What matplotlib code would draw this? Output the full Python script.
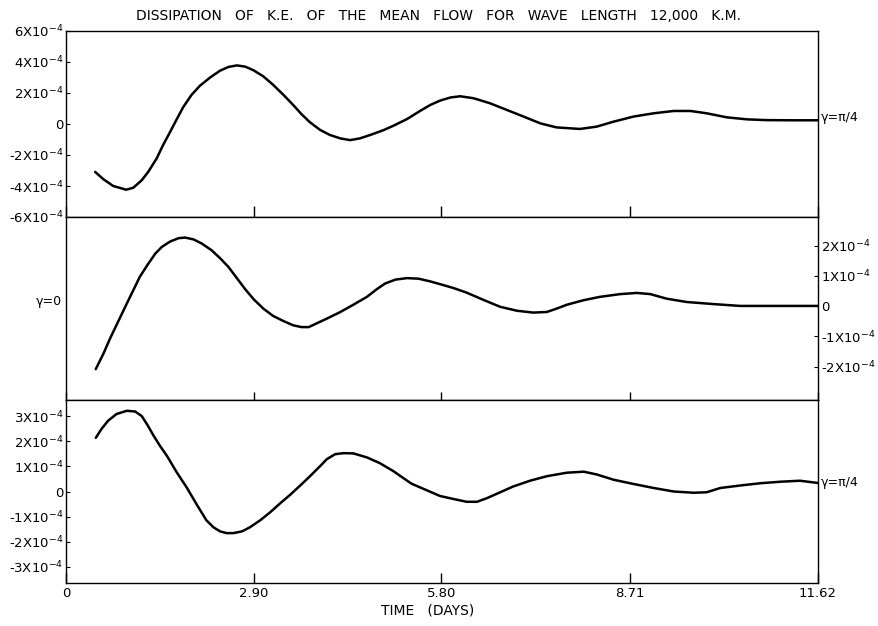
import matplotlib
matplotlib.use("Agg")
import matplotlib.pyplot as plt

# time axis (days)
x_ticks = [0, 2.90, 5.80, 8.71, 11.62]
x_ticklabels = ["0", "2.90", "5.80", "8.71", "11.62"]

# values in units of 1e-4
top_t = [0.45, 0.58, 0.73, 0.93, 1.04, 1.17, 1.27, 1.40, 1.50, 1.61, 1.71, 1.81,
         1.94, 2.07, 2.23, 2.38, 2.51, 2.64, 2.77, 2.90, 3.05, 3.20, 3.36, 3.51,
         3.64, 3.77, 3.93, 4.08, 4.24, 4.39, 4.54, 4.70, 4.91, 5.06, 5.27, 5.47,
         5.63, 5.78, 5.94, 6.09, 6.30, 6.55, 6.81, 7.07, 7.33, 7.58, 7.94, 8.20,
         8.46, 8.77, 9.08, 9.39, 9.65, 9.90, 10.21, 10.52, 10.83, 11.19, 11.62]
top_v = [-3.09, -3.57, -4.00, -4.24, -4.11, -3.63, -3.09, -2.23, -1.36, -0.50, 0.30, 1.08,
         1.88, 2.47, 3.01, 3.44, 3.68, 3.78, 3.70, 3.46, 3.07, 2.53, 1.88, 1.23,
         0.63, 0.11, -0.39, -0.71, -0.93, -1.04, -0.93, -0.71, -0.39, -0.11, 0.32, 0.84,
         1.23, 1.51, 1.71, 1.79, 1.66, 1.34, 0.91, 0.48, 0.04, -0.22, -0.32, -0.17,
         0.15, 0.48, 0.69, 0.84, 0.84, 0.69, 0.43, 0.30, 0.25, 0.24, 0.24]

mid_t = [0.46, 0.58, 0.68, 0.81, 0.94, 1.04, 1.14, 1.26, 1.38, 1.48, 1.61, 1.74,
         1.84, 1.97, 2.10, 2.25, 2.38, 2.51, 2.64, 2.77, 2.90, 3.05, 3.20, 3.36,
         3.51, 3.64, 3.75, 3.87, 4.03, 4.24, 4.44, 4.65, 4.80, 4.93, 5.09, 5.27,
         5.45, 5.63, 5.78, 5.99, 6.19, 6.45, 6.71, 6.97, 7.22, 7.43, 7.58, 7.74,
         8.00, 8.25, 8.56, 8.82, 9.03, 9.28, 9.59, 10.01, 10.42, 10.93, 11.62]
mid_v = [-2.08, -1.56, -1.07, -0.49, 0.09, 0.53, 0.97, 1.37, 1.74, 1.96, 2.14, 2.25,
         2.27, 2.21, 2.07, 1.85, 1.59, 1.30, 0.93, 0.56, 0.23, -0.08, -0.32, -0.49,
         -0.63, -0.69, -0.69, -0.57, -0.41, -0.19, 0.05, 0.31, 0.56, 0.75, 0.88, 0.93,
         0.91, 0.82, 0.73, 0.60, 0.45, 0.21, -0.02, -0.15, -0.21, -0.19, -0.08, 0.05,
         0.20, 0.31, 0.40, 0.44, 0.40, 0.25, 0.14, 0.07, 0.01, 0.01, 0.01]

bot_t = [0.46, 0.55, 0.65, 0.78, 0.94, 1.07, 1.17, 1.26, 1.35, 1.45, 1.56, 1.71,
         1.87, 2.02, 2.17, 2.28, 2.38, 2.48, 2.59, 2.72, 2.84, 3.00, 3.15, 3.31,
         3.46, 3.62, 3.77, 3.93, 4.03, 4.16, 4.29, 4.44, 4.65, 4.85, 5.06, 5.21,
         5.34, 5.52, 5.78, 5.99, 6.19, 6.35, 6.50, 6.71, 6.91, 7.17, 7.43, 7.74,
         8.00, 8.20, 8.46, 8.77, 9.08, 9.39, 9.70, 9.90, 10.11, 10.42, 10.73, 11.04,
         11.34, 11.62]
bot_v = [2.14, 2.50, 2.82, 3.09, 3.22, 3.19, 3.01, 2.65, 2.24, 1.83, 1.42, 0.77,
         0.14, -0.52, -1.15, -1.43, -1.59, -1.66, -1.66, -1.59, -1.43, -1.15, -0.84, -0.47,
         -0.14, 0.24, 0.61, 1.02, 1.29, 1.49, 1.53, 1.52, 1.36, 1.13, 0.81, 0.54,
         0.31, 0.11, -0.18, -0.30, -0.41, -0.41, -0.27, -0.03, 0.20, 0.43, 0.61, 0.75,
         0.79, 0.68, 0.47, 0.30, 0.14, 0.00, -0.05, -0.03, 0.14, 0.24, 0.33, 0.39,
         0.43, 0.34]

top_yticks = [-6, -4, -2, 0, 2, 4, 6]
mid_yticks = [-2, -1, 0, 1, 2]
bot_yticks = [-3, -2, -1, 0, 1, 2, 3]


def ylabels(ticks):
    out = []
    for v in ticks:
        if v == 0:
            out.append("0")
        else:
            out.append("%dX10$^{-4}$" % v)
    return out


plt.rcParams['font.family'] = ['DejaVu Sans']
plt.rcParams['mathtext.fontset'] = 'dejavusans'

W, H = 879, 626
fig = plt.figure(figsize=(W / 100, H / 100), dpi=100)

left = 66 / W
width = (818 - 66) / W


def panel(top_px, bot_px):
    return fig.add_axes([left, 1 - bot_px / H, width, (bot_px - top_px) / H])


ax1 = panel(31, 217)
ax2 = panel(217, 400)
ax3 = panel(400, 583)

line_kw = dict(color='black', lw=1.8, solid_joinstyle='round', solid_capstyle='round')
ax1.plot(top_t, top_v, **line_kw)
ax2.plot(mid_t, mid_v, **line_kw)
ax3.plot(bot_t, bot_v, **line_kw)

ax1.set_ylim(-6, 6)
ax2.set_ylim(-3.1, 2.95)
ax3.set_ylim(-3.65, 3.65)

for ax, xlen in [(ax1, 8), (ax2, 6), (ax3, 7)]:
    ax.set_xlim(0, 11.62)
    ax.set_xticks(x_ticks)
    ax.tick_params(axis='x', direction='in', length=xlen, width=1.0)
    ax.tick_params(axis='y', direction='in', length=3, width=0.8, labelsize=9.5, pad=2)
    for s in ax.spines.values():
        s.set_linewidth(1.0)

ax1.set_xticklabels([])
ax2.set_xticklabels([])
ax3.set_xticklabels(x_ticklabels, fontsize=9.5)
ax3.tick_params(axis='x', pad=3)

ax1.set_yticks(top_yticks)
ax1.set_yticklabels(ylabels(top_yticks))
ax2.yaxis.tick_right()
ax2.set_yticks(mid_yticks)
ax2.set_yticklabels(ylabels(mid_yticks))
ax3.set_yticks(bot_yticks)
ax3.set_yticklabels(ylabels(bot_yticks))

ax1.text(1.004, 0.45, "γ=π/4", transform=ax1.get_yaxis_transform(),
         ha='left', va='center', fontsize=9)
ax2.text(-0.006, 0.15, "γ=0", transform=ax2.get_yaxis_transform(),
         ha='right', va='center', fontsize=9)
ax3.text(1.004, 0.37, "γ=π/4", transform=ax3.get_yaxis_transform(),
         ha='left', va='center', fontsize=9)

fig.text(439 / W, 1 - 16 / H,
         "DISSIPATION   OF   K.E.   OF   THE   MEAN   FLOW   FOR   WAVE   LENGTH   12,000   K.M.",
         ha='center', va='center', fontsize=10)
fig.text(428 / W, 1 - 610 / H, "TIME   (DAYS)", ha='center', va='center', fontsize=10)

fig.savefig("out.png", dpi=100)
